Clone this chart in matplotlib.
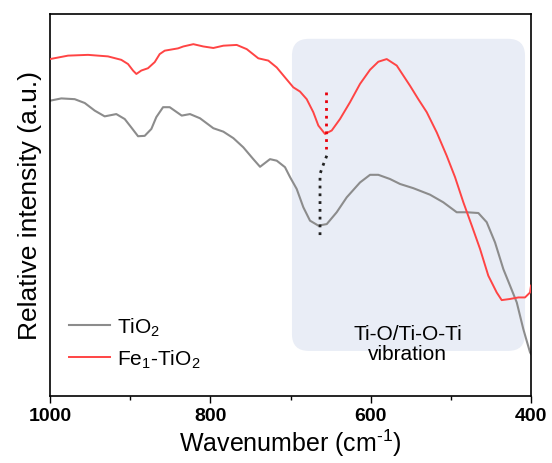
import matplotlib
matplotlib.use("Agg")
import matplotlib.pyplot as plt
from matplotlib.patches import FancyBboxPatch
from matplotlib.ticker import MultipleLocator

plt.rcParams['font.family'] = ['Liberation Sans', 'DejaVu Sans']
plt.rcParams['mathtext.fontset'] = 'custom'
plt.rcParams['mathtext.rm'] = 'Liberation Sans'
plt.rcParams['mathtext.it'] = 'Liberation Sans'

# --- Daten ---
w_fe = [1000, 977.5, 952.6, 927.7, 911.1, 902.7, 896.5, 892.3, 886.1, 877.8, 869.4, 863.2,
        856.9, 840.3, 833.7, 821.2, 808.8, 796.3, 783.8, 767.1, 754.6, 740.2, 727.7, 717.2,
        706.9, 696.5, 688.2, 679.8, 671.6, 665.3, 657.0, 648.6, 638.3, 625.8, 613.3, 600.8,
        590.5, 580.0, 567.5, 550.9, 540.6, 530.1, 517.6, 505.2, 494.8, 484.4, 473.9, 463.6,
        453.3, 442.8, 436.6, 426.2, 415.8, 407.5, 401.2, 400]
i_fe = [88.2, 89.1, 89.3, 88.9, 88.0, 86.9, 85.2, 84.3, 85.2, 85.8, 87.4, 89.5,
        90.4, 91.0, 91.5, 92.1, 91.5, 91.1, 91.7, 91.9, 90.8, 88.4, 87.8, 86.0,
        83.4, 80.8, 79.7, 77.7, 74.3, 70.8, 68.6, 69.5, 72.5, 76.9, 81.7, 85.4,
        87.5, 88.2, 86.5, 81.2, 77.7, 74.3, 69.0, 62.9, 57.3, 50.7, 44.6, 38.5,
        31.5, 27.1, 25.1, 25.4, 25.8, 25.8, 27.1, 28.9]

w_ti = [1000, 985.9, 969.2, 956.7, 944.2, 931.8, 917.3, 906.8, 898.6, 890.2, 881.9, 873.6,
        867.4, 859.0, 850.7, 835.7, 825.4, 812.9, 796.3, 783.8, 771.3, 758.9, 746.4, 738.0,
        725.6, 717.2, 706.9, 700.6, 692.3, 684.0, 675.7, 665.3, 654.8, 642.4, 629.9, 613.3,
        600.8, 590.5, 575.9, 563.4, 546.8, 526.0, 509.4, 492.7, 480.2, 465.7, 455.3, 444.9,
        434.5, 426.2, 417.8, 409.6, 401.2, 400]
i_ti = [77.3, 77.9, 77.7, 76.7, 74.7, 73.2, 73.8, 72.5, 70.3, 68.0, 68.1, 69.9,
        73.0, 75.6, 75.6, 73.4, 73.8, 72.7, 70.1, 69.2, 67.5, 65.1, 62.0, 60.0,
        62.0, 61.6, 59.9, 57.3, 54.2, 49.4, 45.9, 44.6, 45.0, 48.1, 52.0, 55.9,
        57.9, 57.9, 56.8, 55.5, 54.4, 52.7, 50.7, 48.1, 48.1, 47.9, 45.5, 40.2,
        33.2, 28.9, 24.5, 17.5, 11.4, 11.0]

# gepunktete Peak-Markierungen
w_fe_mark = [656.0, 656.0]
i_fe_mark = [79.7, 64.7]
w_ti_mark = [654.8, 660.3, 663.2, 663.2]
i_ti_mark = [62.9, 59.9, 58.1, 41.5]

fig = plt.figure(figsize=(5.52, 4.64), dpi=100)
ax = fig.add_axes([0.0906, 0.1444, 0.8714, 0.8233])

# Bereich Ti-O/Ti-O-Ti
box = FancyBboxPatch((0.503, 0.118), 0.4845, 0.817,
                     boxstyle="round,pad=0,rounding_size=0.035",
                     mutation_aspect=481 / 382,
                     transform=ax.transAxes, facecolor='#e9edf6', edgecolor='none', zorder=0)
ax.add_patch(box)
ax.text(0.744, 0.137, 'Ti-O/Ti-O-Ti\nvibration', transform=ax.transAxes,
        ha='center', va='center', fontsize=15, linespacing=1.1)

ax.plot(w_ti, i_ti, color='#8c8c8c', lw=1.5, label='TiO$_2$', zorder=2,
        solid_joinstyle='round')
ax.plot(w_fe, i_fe, color='#ff4444', lw=1.4, label='Fe$_1$-TiO$_2$', zorder=3,
        solid_joinstyle='round')
ax.plot(w_fe_mark, i_fe_mark, color='#e8000b', lw=2, ls=(0, (1, 1.8)), zorder=4)
ax.plot(w_ti_mark, i_ti_mark, color='#222222', lw=2, ls=(0, (1, 1.8)), zorder=4)

ax.set_xlim(1000, 400)
ax.set_ylim(0, 100)
ax.xaxis.set_major_locator(MultipleLocator(200))
ax.xaxis.set_minor_locator(MultipleLocator(100))
ax.set_yticks([])
ax.tick_params(axis='x', which='major', length=5, width=1, direction='out', labelsize=14, pad=3)
ax.tick_params(axis='x', which='minor', length=3, width=1, direction='out')
for lab in ax.get_xticklabels():
    lab.set_fontweight('bold')
for s in ax.spines.values():
    s.set_linewidth(1.2)

ax.set_xlabel('Wavenumber (cm$^{\\text{-1}}$)', fontsize=18, labelpad=2)
ax.set_ylabel('Relative intensity (a.u.)', fontsize=19, labelpad=6)

ax.legend(loc='lower left', bbox_to_anchor=(0.0, 0.02), frameon=False, fontsize=15,
          handlelength=2.0, handletextpad=0.3, labelspacing=0.45)

fig.savefig('out.png', dpi=100)
